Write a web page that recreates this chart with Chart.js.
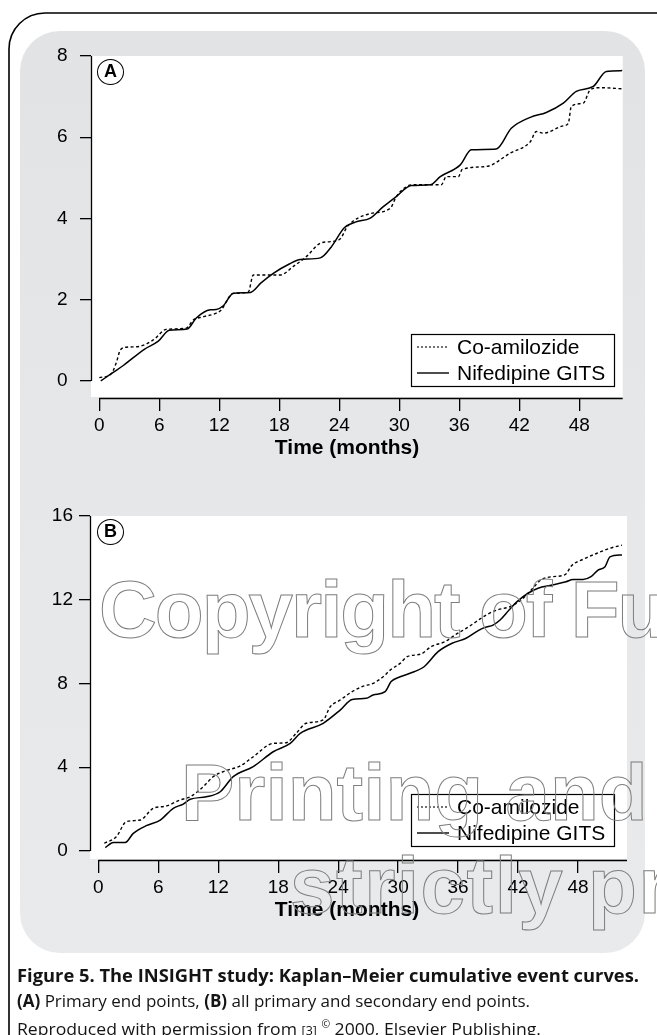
<!DOCTYPE html>
<html>
<head>
<meta charset="utf-8">
<script src="https://cdn.jsdelivr.net/npm/chart.js@4.4.1/dist/chart.umd.min.js"></script>
<style>
html,body{margin:0;padding:0;background:#fff;}
#page{position:relative;width:657px;height:1035px;overflow:hidden;background:#fff;}
#panel{position:absolute;left:20px;top:31px;width:625px;height:922px;border-radius:40px;
  background:linear-gradient(180deg,#e2e3e5 0%,#e6e7e9 45%,#e9eaeb 100%);}
canvas{position:absolute;left:0;}
#cA{top:0;}
#cB{top:470px;}
.badge{position:absolute;box-sizing:border-box;width:27px;height:26px;border:1.8px solid #000;border-radius:50%;background:#fff;
  font:bold 18px "Liberation Sans",Arial,sans-serif;color:#000;text-align:center;line-height:23px;}
.cap{position:absolute;left:17px;white-space:nowrap;font-family:"Open Sans","Noto Sans",sans-serif;font-size:17px;line-height:24px;color:#141414;transform-origin:0 50%;}
#over{position:absolute;left:0;top:0;}
</style>
</head>
<body>
<div id="page">
  <div id="panel"></div>
  <canvas id="cA" width="657" height="470"></canvas>
  <canvas id="cB" width="657" height="490"></canvas>
  <div class="badge" style="left:97px;top:59px;">A</div>
  <div class="badge" style="left:97px;top:519px;">B</div>
  <svg id="over" width="657" height="1035" xmlns="http://www.w3.org/2000/svg">
    <g font-family="Liberation Sans, Arial, Helvetica, sans-serif" font-weight="bold" font-size="80" fill="none" stroke="#7e7e7e" stroke-width="1">
      <text x="99" y="637" letter-spacing="-2">Copyright of Fu</text>
      <text x="181" y="820">Printing and</text>
      <text x="290" y="913" letter-spacing="1.5">strictly pr</text>
    </g>
    <path d="M657 13 H45 A36 36 0 0 0 9 49 V1035" fill="none" stroke="#000" stroke-width="1.6"/>
  </svg>
  <div class="cap" data-w="622" style="top:964px;font-weight:bold;">Figure 5. The INSIGHT study: Kaplan–Meier cumulative event curves.</div>
  <div class="cap" data-w="513" style="top:989px;"><b>(A)</b> Primary end points, <b>(B)</b> all primary and secondary end points.</div>
  <div class="cap" data-w="524" style="top:1012px;">Reproduced with permission from <span style="font-size:12px">[3]</span> <sup style="font-size:10px">©</sup> 2000, Elsevier Publishing.</div>
</div>
<script>
// ---------- DATA ----------
const xTickLabels = [0, 6, 12, 18, 24, 30, 36, 42, 48];
const yTicksA = [0, 2, 4, 6, 8];
const yTicksB = [0, 4, 8, 12, 16];
const seriesNames = ['Co-amilozide', 'Nifedipine GITS'];
const axisTitle = 'Time (months)';

// Panel A: primary end points
const aCoMonths = [0, 1.2, 1.7, 2.1, 2.7, 4.0, 5.4, 6.7, 8.7, 9.4, 10.4, 11.7, 12.2, 12.7, 13.3, 14.9, 15.4, 16.7, 18.1, 19.4, 20.7, 22.1, 23.1, 24.1, 24.8, 27.1, 29.1, 29.7, 30.7, 31.3, 34.2, 34.7, 35.9, 36.3, 38.7, 41.1, 43.1, 43.7, 44.4, 46.4, 46.9, 47.2, 48.4, 49.1, 50.1, 52.4];
const aCoValues = [0.08, 0.18, 0.45, 0.76, 0.83, 0.85, 1.01, 1.27, 1.30, 1.50, 1.58, 1.67, 1.75, 1.95, 2.15, 2.19, 2.61, 2.61, 2.61, 2.82, 3.06, 3.39, 3.43, 3.5, 3.8, 4.12, 4.25, 4.54, 4.78, 4.83, 4.83, 5.03, 5.03, 5.21, 5.28, 5.61, 5.89, 6.14, 6.10, 6.28, 6.34, 6.76, 6.84, 7.17, 7.22, 7.19];
const aNifMonths = [0.15, 1.2, 2.4, 4.5, 5.9, 7.0, 8.8, 9.7, 11.1, 11.7, 12.4, 13.4, 15.1, 16.2, 17.4, 19.0, 20.1, 22.1, 23.2, 24.5, 25.6, 27.1, 28.4, 29.7, 31.2, 33.1, 34.1, 36.1, 37.2, 39.7, 41.2, 43.1, 44.7, 46.4, 47.7, 49.4, 50.7, 52.3];
const aNifValues = [0, 0.18, 0.38, 0.78, 0.98, 1.25, 1.28, 1.55, 1.75, 1.76, 1.85, 2.16, 2.18, 2.42, 2.65, 2.88, 2.99, 3.03, 3.3, 3.77, 3.91, 4.01, 4.29, 4.54, 4.81, 4.83, 5.03, 5.32, 5.69, 5.71, 6.22, 6.49, 6.61, 6.84, 7.13, 7.25, 7.62, 7.64];

// Panel B: all primary and secondary end points
const bCoMonths = [0.6, 1.8, 2.8, 4.2, 5.5, 6.8, 8.2, 9.2, 10.5, 11.5, 12.8, 14.2, 15.5, 17.5, 18.8, 19.8, 20.8, 22.5, 23.2, 24.2, 25.4, 26.4, 27.5, 28.5, 29.2, 30.2, 30.9, 32.3, 33.3, 34.7, 35.7, 36.8, 37.8, 38.8, 39.9, 41.2, 42.3, 43.3, 44.3, 45.4, 46.7, 47.4, 48.5, 49.9, 51.2, 52.4];
const bCoValues = [0.37, 0.68, 1.40, 1.48, 2.04, 2.15, 2.44, 2.59, 3.07, 3.55, 3.84, 4.06, 4.50, 5.14, 5.17, 5.62, 6.10, 6.26, 6.89, 7.21, 7.61, 7.85, 8.01, 8.32, 8.64, 8.96, 9.28, 9.41, 9.76, 10.0, 10.32, 10.63, 10.95, 11.27, 11.51, 11.67, 11.99, 12.46, 12.95, 13.1, 13.2, 13.65, 13.93, 14.22, 14.46, 14.61];
const bNifMonths = [0.7, 1.5, 2.7, 3.5, 4.8, 6.2, 7.5, 8.5, 9.2, 10.8, 12.2, 13.5, 15.5, 17.5, 19.2, 20.2, 22.5, 24.2, 25.4, 26.8, 27.5, 28.7, 29.3, 30.2, 31.6, 32.6, 34.0, 35.4, 36.8, 38.1, 38.7, 39.5, 40.2, 41.1, 41.9, 43.0, 44.0, 45.4, 46.8, 47.5, 48.5, 49.3, 50.0, 50.7, 51.2, 52.4];
const bNifValues = [0.16, 0.41, 0.41, 0.84, 1.21, 1.48, 2.04, 2.24, 2.47, 2.59, 2.83, 3.55, 4.03, 4.74, 5.14, 5.62, 6.10, 6.73, 7.24, 7.29, 7.45, 7.61, 8.09, 8.32, 8.56, 8.80, 9.52, 9.92, 10.16, 10.55, 10.68, 10.79, 11.03, 11.51, 11.91, 12.31, 12.55, 12.70, 12.86, 12.97, 12.97, 13.10, 13.42, 13.58, 14.05, 14.14];

// ---------- CHARTS ----------
const FONT = '"Liberation Sans", Arial, Helvetica, sans-serif';
const pts = (xs, ys) => xs.map((x, i) => ({x: x, y: ys[i]}));

const panelPlugin = {
  id: 'panel',
  beforeDraw(chart) {
    const a = chart.chartArea, ctx = chart.ctx;
    ctx.save();
    ctx.fillStyle = '#ffffff';
    ctx.fillRect(a.left, a.top, a.right - a.left, a.bottom - a.top - 1);
    ctx.restore();
  },
  afterDraw(chart, args, o) {
    const a = chart.chartArea, ctx = chart.ctx;
    const xs = chart.scales.x, ys = chart.scales.y;
    ctx.save();
    ctx.strokeStyle = '#000';
    ctx.lineWidth = 1.3;
    ctx.beginPath();
    ctx.moveTo(Math.round(a.left) + 0.5, ys.getPixelForValue(o.yTop));
    ctx.lineTo(Math.round(a.left) + 0.5, ys.getPixelForValue(0));
    ctx.moveTo(xs.getPixelForValue(0), Math.round(a.bottom) + 0.5);
    ctx.lineTo(a.right, Math.round(a.bottom) + 0.5);
    ctx.stroke();
    // axis title
    ctx.fillStyle = '#000';
    ctx.font = 'bold 21px ' + FONT;
    ctx.textAlign = 'center';
    ctx.textBaseline = 'middle';
    ctx.fillText(axisTitle, o.titleX, a.bottom + 50);
    // legend box
    const b = o.box;
    ctx.textAlign = 'left';
    ctx.lineWidth = 1.2;
    ctx.strokeRect(b.l + 0.5, b.t + 0.5, b.w, b.h);
    ctx.font = '21px ' + FONT;
    chart.data.datasets.forEach((ds, i) => {
      const cy = b.t + b.row0 + i * b.rowGap;
      ctx.beginPath();
      ctx.lineWidth = ds.legendWidth;
      ctx.setLineDash(ds.legendDash);
      ctx.moveTo(b.l + 6, cy);
      ctx.lineTo(b.l + 38, cy);
      ctx.stroke();
      ctx.setLineDash([]);
      ctx.fillText(ds.label, b.l + 46, cy + 1);
    });
    ctx.restore();
  }
};

function makeChart(id, cfg) {
  const ds = [
    {label: seriesNames[0], data: pts(cfg.coM, cfg.coV), borderColor: '#000', borderWidth: 1.4,
     borderDash: [3, 2.5], legendDash: [2, 2], legendWidth: 1.1, pointRadius: 0, fill: false, cubicInterpolationMode: 'monotone'},
    {label: seriesNames[1], data: pts(cfg.nfM, cfg.nfV), borderColor: '#000', borderWidth: 1.5,
     legendDash: [], legendWidth: 1.4, pointRadius: 0, fill: false, cubicInterpolationMode: 'monotone'}
  ];
  return new Chart(document.getElementById(id), {
    type: 'line',
    data: {datasets: ds},
    options: {
      responsive: false, animation: false, events: [],
      layout: {padding: cfg.pad},
      plugins: {legend: {display: false}, tooltip: {enabled: false},
                panel: {yTop: cfg.yTicks[cfg.yTicks.length - 1], box: cfg.box, titleX: 347}},
      scales: {
        x: {
          type: 'linear', min: cfg.xMin, max: cfg.xMax,
          afterBuildTicks: s => { s.ticks = xTickLabels.map(v => ({value: v})); },
          afterFit: s => { s.height = 62; },
          border: {display: false},
          grid: {drawOnChartArea: false, drawTicks: true, tickLength: 13, color: '#000', lineWidth: 1.3},
          ticks: {color: '#000', font: {family: FONT, size: 19}, padding: 3, maxRotation: 0, autoSkip: false},
          title: {display: false}
        },
        y: {
          type: 'linear', min: cfg.yMin, max: cfg.yTicks[cfg.yTicks.length - 1],
          afterBuildTicks: s => { s.ticks = cfg.yTicks.map(v => ({value: v})); },
          afterFit: s => { s.width = cfg.yWidth; },
          border: {display: false},
          grid: {drawOnChartArea: false, drawTicks: true, tickLength: 11, color: '#000', lineWidth: 1.3},
          ticks: {color: '#000', font: {family: FONT, size: 19}, padding: cfg.yPad, crossAlign: 'center', autoSkip: false}
        }
      }
    },
    plugins: [panelPlugin]
  });
}

makeChart('cA', {
  coM: aCoMonths, coV: aCoValues, nfM: aNifMonths, nfV: aNifValues,
  yTicks: yTicksA, yMin: -0.42, xMin: -0.83, xMax: 52.34,
  yWidth: 91, yPad: 12.5,
  pad: {left: 0, top: 56, right: 34.3, bottom: 10},
  box: {l: 411, t: 334, w: 203, h: 52, row0: 13, rowGap: 26}
});
makeChart('cB', {
  coM: bCoMonths, coV: bCoValues, nfM: bNifMonths, nfV: bNifValues,
  yTicks: yTicksB, yMin: -0.43, xMin: -0.83, xMax: 52.9,
  yWidth: 90, yPad: 6,
  pad: {left: 0, top: 46, right: 30, bottom: 38},
  box: {l: 411, t: 324, w: 203, h: 52, row0: 13, rowGap: 26}
});

// caption width fitting
document.querySelectorAll('.cap').forEach(el => {
  const w = el.getBoundingClientRect().width;
  el.style.transform = 'scaleX(' + (parseFloat(el.dataset.w) / w).toFixed(4) + ')';
});
</script>
</body>
</html>
